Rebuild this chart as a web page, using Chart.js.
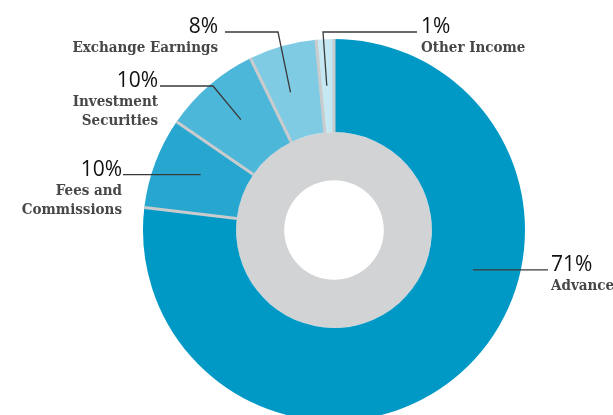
<!DOCTYPE html>
<html>
<head>
<meta charset="utf-8">
<script src="https://cdn.jsdelivr.net/npm/chart.js@4.4.0/dist/chart.umd.min.js"></script>
<style>
  html, body { margin: 0; padding: 0; background: #fff; overflow: hidden; }
  #wrap { width: 613px; height: 415px; overflow: hidden; }
</style>
</head>
<body>
<div id="wrap"><canvas id="income" width="613" height="460"></canvas></div>
<script>
// outer ring, clockwise from 12 o'clock
const categories = [['Advance'], ['Fees and', 'Commissions'], ['Investment', 'Securities'], ['Exchange Earnings'], ['Other Income']];
const pctLabels = ['71%', '10%', '10%', '8%', '1%'];
const shares = [76.8, 7.7, 8.2, 5.7, 1.5]; // slice sizes as drawn
const ringColors = ['#0099c6', '#27a7d0', '#4cb7d9', '#80cbe4', '#c6e8f3'];

// where the leader leaves the slice (fraction of its arc) and where its text goes
const callouts = [
  {at: 0.383, side: 'right', endX: 548, textX: 551},
  {at: 0.57, side: 'left', endX: 123, textX: 122},
  {at: 0.52, side: 'left', elbowX: 213, lineY: 86, endX: 160, textX: 158},
  {at: 0.41, side: 'left', elbowX: 278, lineY: 32, endX: 225, textX: 218},
  {at: 0.47, side: 'right', elbowX: 323, lineY: 32, endX: 417, textX: 421}
];

// thin grey gaps between the blue slices
const separators = {
  id: 'separators',
  afterDatasetDraw(chart, args) {
    if (args.index !== 0) return;
    const ctx = chart.ctx;
    ctx.save();
    ctx.strokeStyle = '#c9cbcd';
    ctx.lineWidth = 3;
    args.meta.data.forEach(arc => {
      const a = arc.startAngle;
      ctx.beginPath();
      ctx.moveTo(arc.x + Math.cos(a) * arc.innerRadius, arc.y + Math.sin(a) * arc.innerRadius);
      ctx.lineTo(arc.x + Math.cos(a) * arc.outerRadius, arc.y + Math.sin(a) * arc.outerRadius);
      ctx.stroke();
    });
    ctx.restore();
  }
};

const calloutLabels = {
  id: 'calloutLabels',
  afterDraw(chart) {
    const ctx = chart.ctx;
    const arcs = chart.getDatasetMeta(0).data;
    ctx.save();
    callouts.forEach((c, i) => {
      const arc = arcs[i];
      const ang = arc.startAngle + (arc.endAngle - arc.startAngle) * c.at;
      const r = (arc.innerRadius + arc.outerRadius) / 2;
      const ax = arc.x + Math.cos(ang) * r;
      const ay = arc.y + Math.sin(ang) * r;
      const y = c.lineY !== undefined ? c.lineY : ay;

      ctx.strokeStyle = '#3a3a3a';
      ctx.lineWidth = 1.3;
      ctx.beginPath();
      ctx.moveTo(ax, ay);
      if (c.elbowX !== undefined) ctx.lineTo(c.elbowX, y);
      ctx.lineTo(c.endX, y);
      ctx.stroke();

      ctx.textAlign = c.side === 'left' ? 'right' : 'left';
      ctx.textBaseline = 'alphabetic';
      ctx.fillStyle = '#111';
      ctx.font = '500 21px "Open Sans"';
      ctx.fillText(pctLabels[i], c.textX, y + 1);
      ctx.fillStyle = '#474747';
      ctx.font = 'bold condensed 15px "DejaVu Serif"';
      categories[i].forEach((line, k) => ctx.fillText(line, c.textX, y + 20 + k * 19));
    });
    ctx.restore();
  }
};

new Chart('income', {
  type: 'doughnut',
  data: {
    labels: categories.map(l => l.join(' ')),
    datasets: [{
      data: shares,
      backgroundColor: ringColors,
      borderWidth: 0,
      weight: 93
    }, {
      data: [1],
      backgroundColor: '#d1d3d4',
      borderWidth: 0,
      weight: 48
    }]
  },
  options: {
    responsive: false,
    animation: false,
    radius: 191,
    cutout: 60,
    hoverOffset: 0,
    layout: { padding: { left: 55 } },
    plugins: {
      legend: { display: false },
      tooltip: { enabled: false }
    }
  },
  plugins: [separators, calloutLabels]
});
</script>
</body>
</html>
